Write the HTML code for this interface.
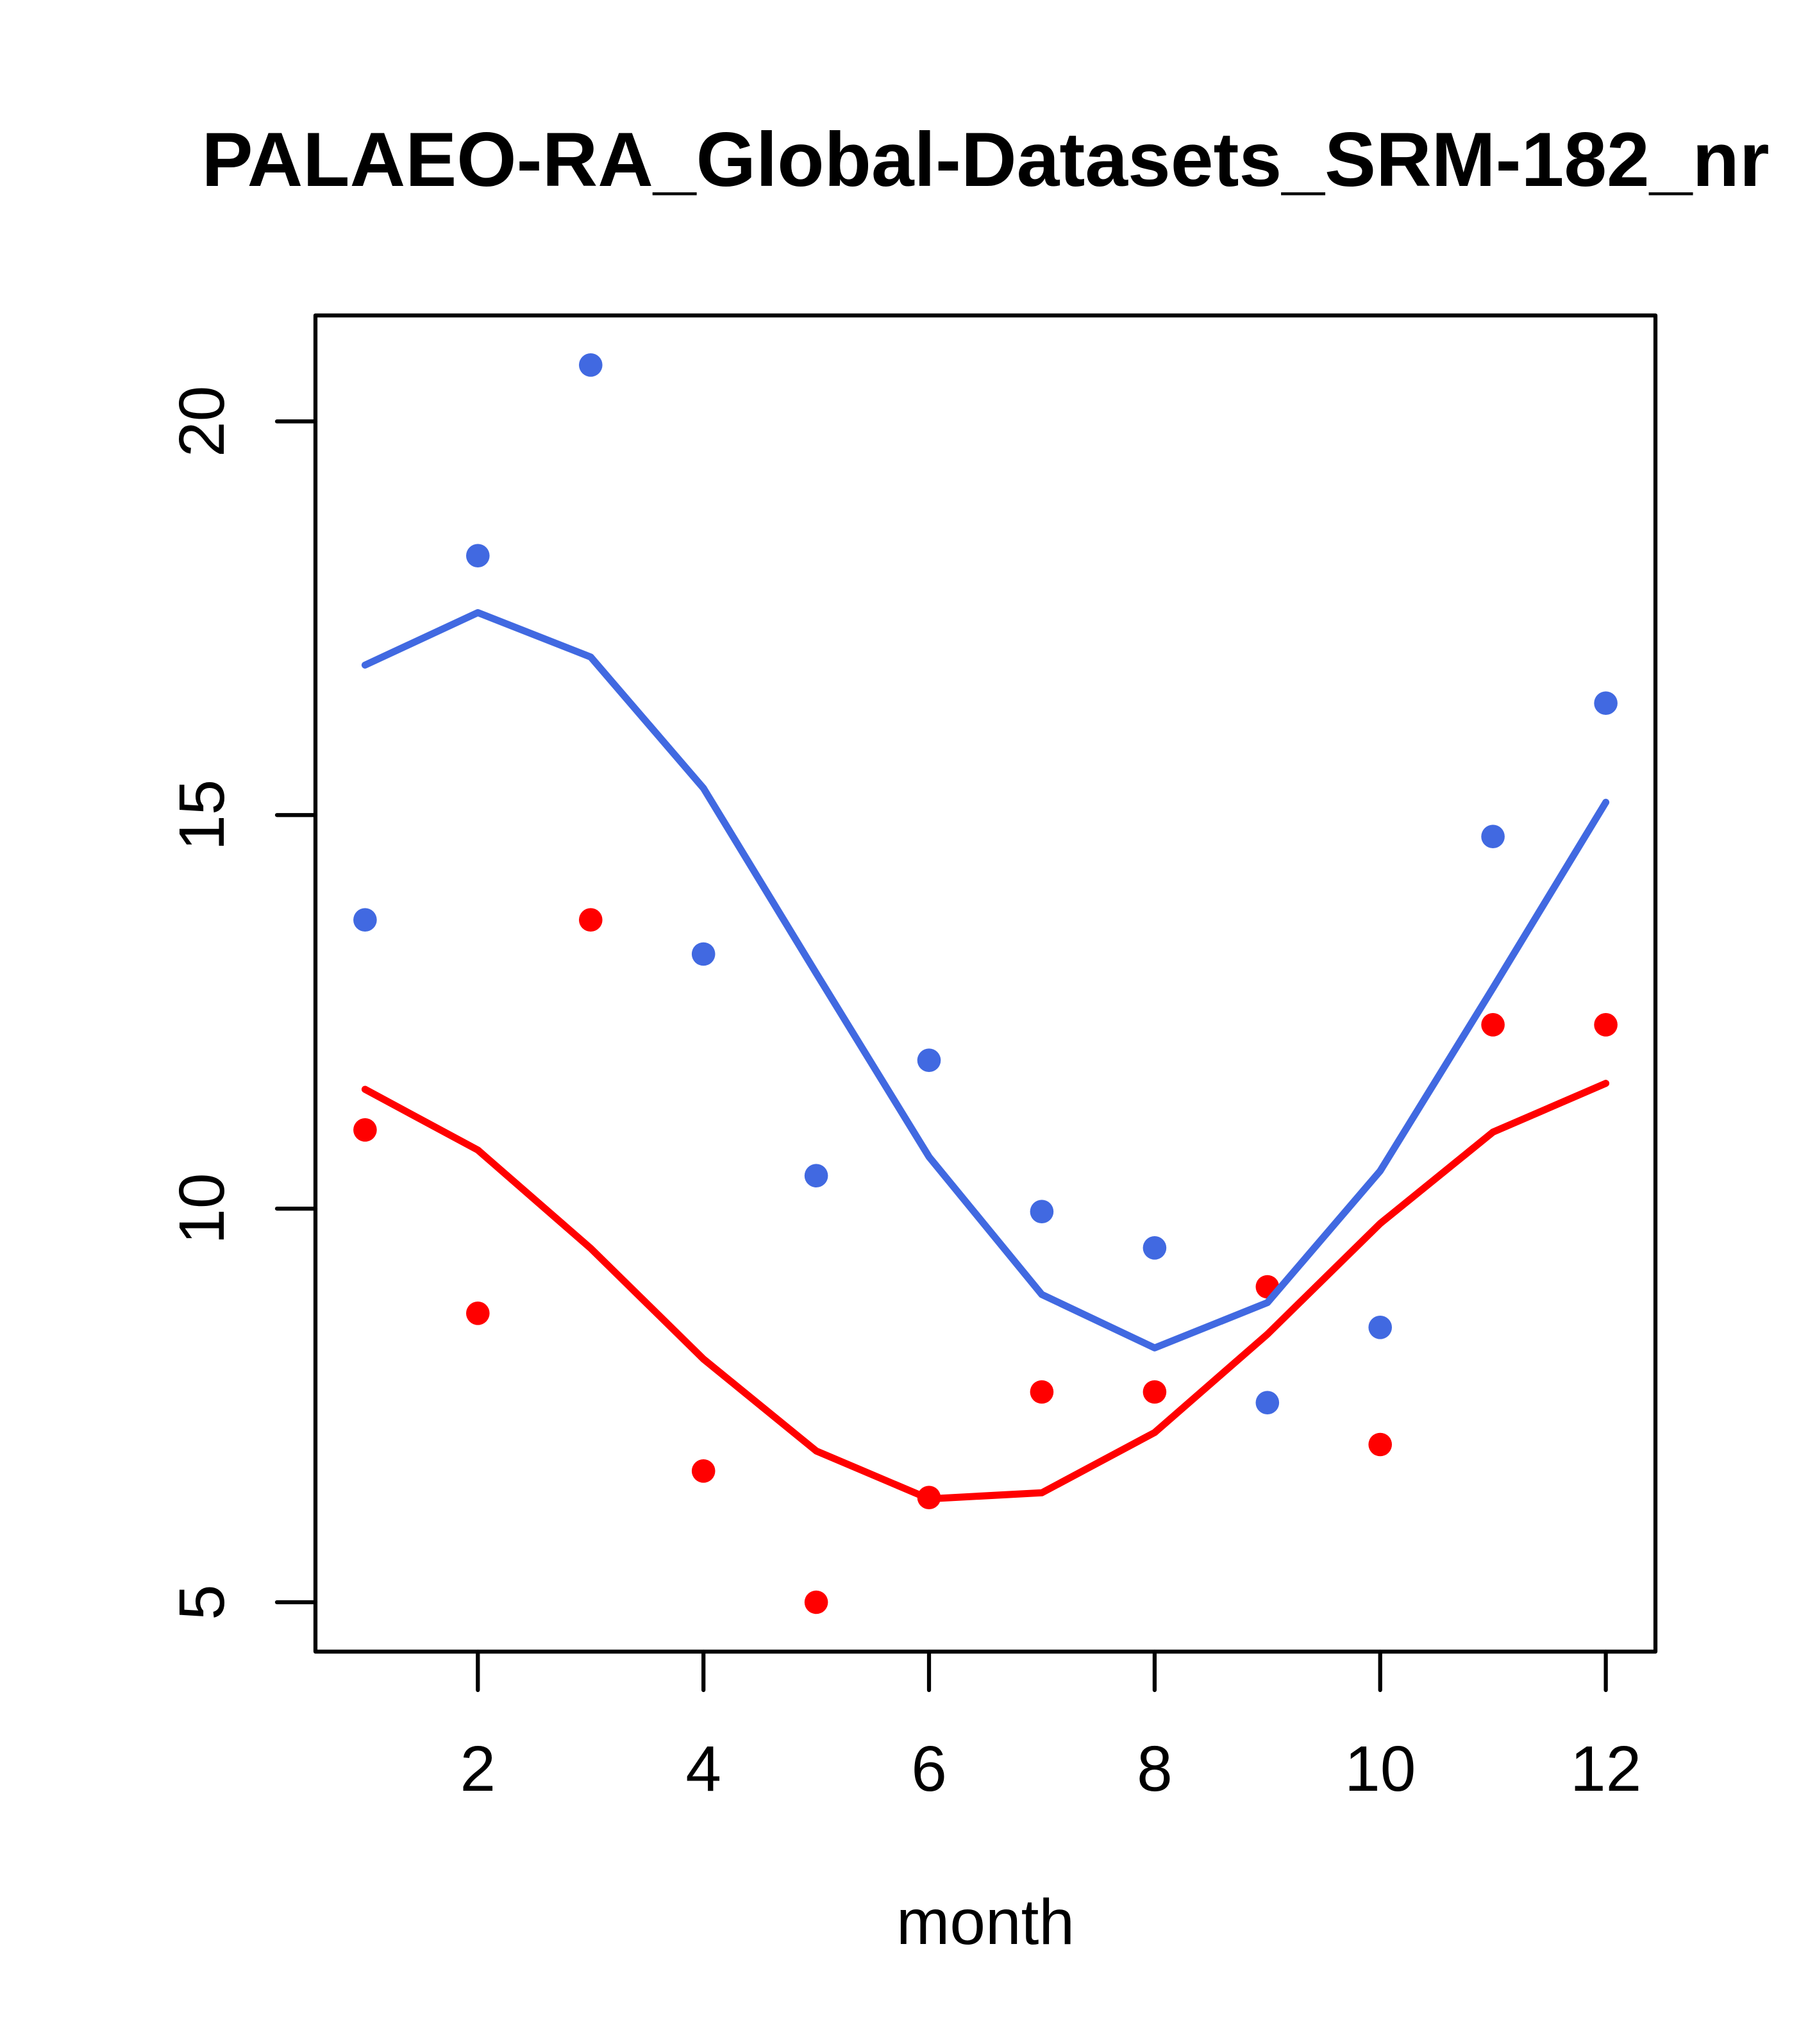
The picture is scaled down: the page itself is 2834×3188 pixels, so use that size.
<!DOCTYPE html>
<html>
<head>
<meta charset="utf-8">
<style>
  html, body { margin: 0; padding: 0; background: #ffffff; }
  svg { display: block; }
</style>
</head>
<body>
<svg xmlns="http://www.w3.org/2000/svg" width="2834" height="3188" viewBox="0 0 2834 3188">
  <rect x="0" y="0" width="2834" height="3188" fill="#ffffff"/>

  <!-- Title -->
  <text x="1537" y="290" text-anchor="middle" font-family="Liberation Sans, Arial, Helvetica, sans-serif" font-weight="bold" font-size="120" fill="#000">PALAEO-RA_Global-Datasets_SRM-182_nr</text>

  <!-- Points: blue -->
  <g fill="#4169E1">
    <circle cx="569.4" cy="1434.7" r="18.3"/>
    <circle cx="745.3" cy="866.7" r="18.3"/>
    <circle cx="921.3" cy="569.3" r="18.3"/>
    <circle cx="1097.2" cy="1488" r="18.3"/>
    <circle cx="1273.1" cy="1833.7" r="18.3"/>
    <circle cx="1449.0" cy="1653.7" r="18.3"/>
    <circle cx="1624.9" cy="1889.7" r="18.3"/>
    <circle cx="1800.9" cy="1946.3" r="18.3"/>
    <circle cx="1976.8" cy="2187.7" r="18.3"/>
    <circle cx="2152.7" cy="2070.3" r="18.3"/>
    <circle cx="2328.6" cy="1304.7" r="18.3"/>
    <circle cx="2504.6" cy="1096.7" r="18.3"/>
  </g>
  <!-- Points: red -->
  <g fill="#FF0000">
    <circle cx="569.4" cy="1762.3" r="18.3"/>
    <circle cx="745.3" cy="2048.3" r="18.3"/>
    <circle cx="921.3" cy="1434.7" r="18.3"/>
    <circle cx="1097.2" cy="2294.3" r="18.3"/>
    <circle cx="1273.1" cy="2499" r="18.3"/>
    <circle cx="1449.0" cy="2335.7" r="18.3"/>
    <circle cx="1624.9" cy="2171" r="18.3"/>
    <circle cx="1800.9" cy="2171" r="18.3"/>
    <circle cx="1976.8" cy="2007" r="18.3"/>
    <circle cx="2152.7" cy="2253" r="18.3"/>
    <circle cx="2328.6" cy="1598.3" r="18.3"/>
    <circle cx="2504.6" cy="1598.3" r="18.3"/>
  </g>

  <!-- Lines -->
  <polyline fill="none" stroke="#4169E1" stroke-width="11" stroke-linecap="round" stroke-linejoin="round"
    points="569.4,1037.3 745.3,955.5 921.3,1024.7 1097.2,1229.3 1273.1,1518 1449.0,1804.3 1624.9,2019 1800.9,2102.3 1976.8,2031.7 2152.7,1826.3 2328.6,1541 2504.6,1251.3"/>
  <polyline fill="none" stroke="#FF0000" stroke-width="11" stroke-linecap="round" stroke-linejoin="round"
    points="569.4,1699 745.3,1793.7 921.3,1947 1097.2,2119.7 1273.1,2263 1449.0,2337.7 1624.9,2328.3 1800.9,2234.3 1976.8,2081 2152.7,1908.3 2328.6,1765.7 2504.6,1689.7"/>

  <!-- Plot box -->
  <rect x="492" y="492" width="2090" height="2084" fill="none" stroke="#000" stroke-width="6.25" stroke-linejoin="round"/>

  <!-- X axis ticks -->
  <g stroke="#000" stroke-width="6.25" stroke-linecap="round">
    <line x1="745.3" y1="2576" x2="745.3" y2="2636"/>
    <line x1="1097.2" y1="2576" x2="1097.2" y2="2636"/>
    <line x1="1449.0" y1="2576" x2="1449.0" y2="2636"/>
    <line x1="1800.9" y1="2576" x2="1800.9" y2="2636"/>
    <line x1="2152.7" y1="2576" x2="2152.7" y2="2636"/>
    <line x1="2504.6" y1="2576" x2="2504.6" y2="2636"/>
  </g>
  <!-- Y axis ticks -->
  <g stroke="#000" stroke-width="6.25" stroke-linecap="round">
    <line x1="492" y1="2499" x2="432" y2="2499"/>
    <line x1="492" y1="1885.1" x2="432" y2="1885.1"/>
    <line x1="492" y1="1271.2" x2="432" y2="1271.2"/>
    <line x1="492" y1="657.3" x2="432" y2="657.3"/>
  </g>

  <!-- X tick labels -->
  <g font-family="Liberation Sans, Arial, Helvetica, sans-serif" font-size="100" fill="#000" text-anchor="middle">
    <text x="745.3" y="2793">2</text>
    <text x="1097.2" y="2793">4</text>
    <text x="1449.0" y="2793">6</text>
    <text x="1800.9" y="2793">8</text>
    <text x="2152.7" y="2793">10</text>
    <text x="2504.6" y="2793">12</text>
  </g>

  <!-- Y tick labels (rotated) -->
  <g font-family="Liberation Sans, Arial, Helvetica, sans-serif" font-size="100" fill="#000" text-anchor="middle">
    <text transform="translate(349,2499) rotate(-90)">5</text>
    <text transform="translate(349,1885.1) rotate(-90)">10</text>
    <text transform="translate(349,1271.2) rotate(-90)">15</text>
    <text transform="translate(349,657.3) rotate(-90)">20</text>
  </g>

  <!-- X axis title -->
  <text x="1537" y="3032" text-anchor="middle" font-family="Liberation Sans, Arial, Helvetica, sans-serif" font-size="100" fill="#000">month</text>
</svg>
</body>
</html>
